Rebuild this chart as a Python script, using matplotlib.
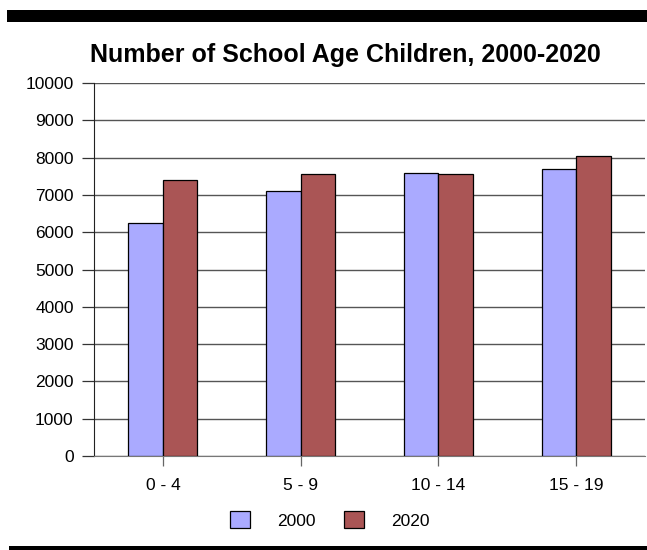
import matplotlib.pyplot as plt
import numpy as np
from matplotlib.patches import Rectangle, Patch

plt.rcParams['font.family'] = ['Liberation Sans', 'DejaVu Sans']

age_groups = ['0 - 4', '5 - 9', '10 - 14', '15 - 19']
children_2000 = [6250, 7100, 7600, 7700]
children_2020 = [7400, 7550, 7570, 8040]
series_names = ['2000', '2020']
colors = ['#aaaaff', '#aa5555']

fig = plt.figure(figsize=(6.47, 5.5), dpi=100)
ax = fig.add_axes([94 / 647, 1 - 456 / 550, (645 - 94) / 647, (456 - 83) / 550])

x = np.arange(len(age_groups))
w = 0.25
ax.bar(x - w / 2, children_2000, w, color=colors[0], edgecolor='black', linewidth=0.9, zorder=3)
ax.bar(x + w / 2, children_2020, w, color=colors[1], edgecolor='black', linewidth=0.9, zorder=3)

ax.set_xlim(-0.5, len(age_groups) - 0.5)
ax.set_ylim(0, 10000)
ax.set_yticks(range(0, 10001, 1000))
ax.set_xticks(x)
ax.set_xticklabels(age_groups, fontsize=12.5)
ax.tick_params(axis='y', labelsize=12.5, length=8.6, width=0.9, color='#333333', pad=6)
ax.tick_params(axis='x', length=7.5, width=0.9, color='#666666', pad=8)

ax.yaxis.grid(True, color='#555555', linewidth=1)
ax.set_axisbelow(True)
for side in ['top', 'right']:
    ax.spines[side].set_visible(False)
ax.spines['left'].set_color('#222222')
ax.spines['bottom'].set_color('#777777')

fig.text(345 / 647, 1 - 55 / 550, 'Number of School Age Children, 2000-2020',
         ha='center', va='center', fontsize=18, fontweight='bold')

handles = [Patch(facecolor=c, edgecolor='black', linewidth=0.9) for c in colors]
fig.legend(handles, series_names, loc='center', bbox_to_anchor=(330 / 647, 1 - 520 / 550),
           ncol=2, frameon=False, fontsize=12.5, handlelength=1.15, handleheight=1.1,
           handletextpad=1.55, columnspacing=1.67)

# heavy black rules above and below the chart
fig.add_artist(Rectangle((7 / 647, 1 - 22 / 550), 1, 12 / 550, transform=fig.transFigure,
                         facecolor='black', edgecolor='none'))
fig.add_artist(Rectangle((9 / 647, 0), 1, 4.5 / 550, transform=fig.transFigure,
                         facecolor='black', edgecolor='none'))

fig.savefig('out.png', dpi=100)
